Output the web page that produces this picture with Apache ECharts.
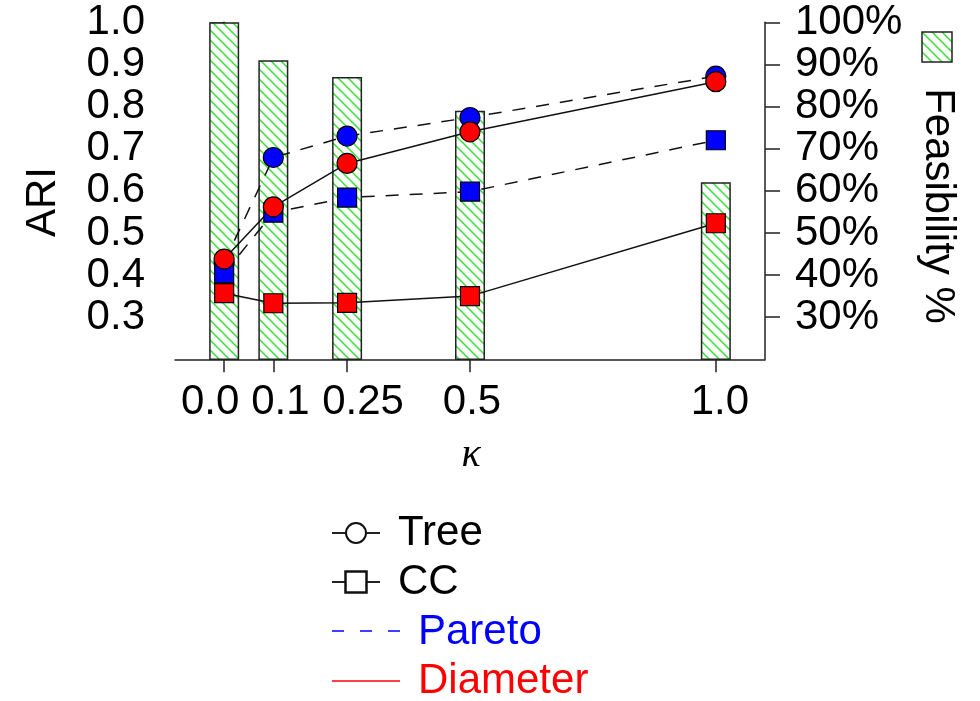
<!DOCTYPE html>
<html>
<head>
    <meta charset="utf-8" />
    <title>ARI vs kappa</title>
    <script src="https://cdn.jsdelivr.net/npm/echarts@6/dist/echarts.min.js"></script>
    <style>
        html, body { margin: 0; padding: 0; background: #fff; }
        #chart { width: 980px; height: 701px; }
    </style>
</head>
<body>
    <div id="chart"></div>
    <script type="text/javascript">
        // kappa values and their tick labels
        const kappa = [0, 0.1, 0.25, 0.5, 1.0];
        const kappaLabels = ['0.0', '0.1', '0.25', '0.5', '1.0'];
        // feasibility % (bars, right axis)
        const feasibility = [100, 91, 87, 79, 62];
        // ARI series
        const treePareto = [0.43, 0.679, 0.730, 0.774, 0.872];
        const ccPareto = [0.404, 0.548, 0.584, 0.598, 0.720];
        const treeDiameter = [0.438, 0.562, 0.665, 0.740, 0.859];
        const ccDiameter = [0.357, 0.333, 0.334, 0.350, 0.523];
        // axis ticks
        const ariTicks = [0.3, 0.4, 0.5, 0.6, 0.7, 0.8, 0.9, 1.0];
        const feasTicks = [30, 40, 50, 60, 70, 80, 90, 100];

        const FONT = "'Liberation Sans', Arial, sans-serif";
        const FS = 42;
        // shift of the kappa labels (px), the labels are not centred on ticks
        const labelShift = [-14, 7, 16, 2, 4];

        //hatch pattern for the bars
        function makeHatch() {
            const c = document.createElement('canvas');
            c.width = 10;
            c.height = 10;
            const ctx = c.getContext('2d');
            ctx.fillStyle = '#fff';
            ctx.fillRect(0, 0, 10, 10);
            ctx.strokeStyle = '#33e033';
            ctx.lineWidth = 1.5;
            for (let k = -1; k <= 1; k++) {
                ctx.beginPath();
                ctx.moveTo(k * 10 - 1, -1);
                ctx.lineTo(k * 10 + 11, 11);
                ctx.stroke();
            }
            return c;
        }
        const hatch = makeHatch();

        const pairs = function (ys) {
            return kappa.map(function (x, i) { return [x, ys[i]]; });
        };

        const rich = {};
        labelShift.forEach(function (d, i) {
            rich['k' + i] = {
                fontSize: FS,
                fontFamily: FONT,
                color: '#000',
                padding: d < 0 ? [0, -2 * d, 0, 0] : [0, 0, 0, 2 * d]
            };
        });

        const lineSeries = function (name, ys, symbol, size, fill, dashed) {
            return {
                name: name,
                type: 'line',
                yAxisIndex: 0,
                data: pairs(ys),
                symbol: symbol,
                symbolSize: size,
                showAllSymbol: true,
                animation: false,
                lineStyle: {
                    color: '#111',
                    width: 1.5,
                    type: dashed ? [13, 11] : 'solid'
                },
                itemStyle: {
                    color: fill,
                    borderColor: '#000',
                    borderWidth: 1.2
                },
                emphasis: { disabled: true }
            };
        };

        const chart = echarts.init(document.getElementById('chart'));
        const option = {
            backgroundColor: '#fff',
            animation: false,
            grid: {
                left: 175,
                right: 215,
                top: 22.3,
                bottom: 341.7,
                containLabel: false,
                outerBoundsMode: 'none'
            },
            xAxis: {
                type: 'value',
                min: -0.1,
                max: 1.1,
                splitLine: { show: false },
                axisLine: { show: true, lineStyle: { color: '#222', width: 1.5 } },
                axisTick: {
                    show: true,
                    customValues: kappa,
                    length: 13,
                    lineStyle: { color: '#222', width: 1.5 }
                },
                axisLabel: {
                    customValues: kappa,
                    margin: 22,
                    fontSize: FS,
                    fontFamily: FONT,
                    color: '#000',
                    formatter: function (v) {
                        const i = kappa.findIndex(function (k) { return Math.abs(k - v) < 1e-9; });
                        return '{k' + i + '|' + kappaLabels[i] + '}';
                    },
                    rich: rich
                }
            },
            yAxis: [{
                type: 'value',
                position: 'left',
                min: 0.2,
                max: 1.0,
                splitLine: { show: false },
                axisLine: { show: true, lineStyle: { color: '#222', width: 1.5 } },
                axisTick: {
                    show: true,
                    customValues: ariTicks,
                    length: 14,
                    lineStyle: { color: '#222', width: 1.5 }
                },
                axisLabel: {
                    customValues: ariTicks,
                    margin: 30,
                    fontSize: FS,
                    fontFamily: FONT,
                    color: '#000',
                    formatter: function (v) { return v.toFixed(1); }
                }
            }, {
                type: 'value',
                position: 'right',
                min: 20,
                max: 100,
                splitLine: { show: false },
                axisLine: { show: true, lineStyle: { color: '#222', width: 1.5 } },
                axisTick: {
                    show: true,
                    customValues: feasTicks,
                    length: 15,
                    lineStyle: { color: '#222', width: 1.5 }
                },
                axisLabel: {
                    customValues: feasTicks,
                    margin: 30,
                    fontSize: FS,
                    fontFamily: FONT,
                    color: '#000',
                    formatter: '{value}%'
                }
            }],
            series: [{
                name: 'Feasibility',
                type: 'bar',
                yAxisIndex: 1,
                data: pairs(feasibility),
                barWidth: 30,
                animation: false,
                itemStyle: {
                    color: { image: hatch, repeat: 'repeat' },
                    borderColor: '#222',
                    borderWidth: 1.5
                },
                emphasis: { disabled: true }
            },
            lineSeries('Tree Pareto', treePareto, 'circle', 20, '#0000ff', true),
            lineSeries('CC Pareto', ccPareto, 'rect', 19, '#0000ff', true),
            lineSeries('Tree Diameter', treeDiameter, 'circle', 20, '#ff0000', false),
            lineSeries('CC Diameter', ccDiameter, 'rect', 19, '#ff0000', false)
            ],
            graphic: [
                // axis titles
                {
                    type: 'text', x: 43, y: 202, rotation: Math.PI / 2,
                    style: { text: 'ARI', font: FS + 'px ' + FONT, fill: '#000', align: 'center', verticalAlign: 'middle' }
                },
                {
                    type: 'text', x: 938, y: 206, rotation: -Math.PI / 2,
                    style: { text: 'Feasibility %', font: FS + 'px ' + FONT, fill: '#000', align: 'center', verticalAlign: 'middle' }
                },
                {
                    type: 'rect', shape: { x: 922, y: 32, width: 30, height: 30 },
                    style: { fill: { image: hatch, repeat: 'repeat' }, stroke: '#222', lineWidth: 1.5 }
                },
                {
                    type: 'text', x: 471, y: 455,
                    style: { text: 'κ', font: 'italic 40px "Liberation Serif", serif', fill: '#000', align: 'center', verticalAlign: 'middle' }
                },
                // legend
                { type: 'line', shape: { x1: 332, y1: 533, x2: 380, y2: 533 }, style: { stroke: '#222', lineWidth: 2 } },
                { type: 'circle', shape: { cx: 356, cy: 533, r: 10 }, style: { fill: '#fff', stroke: '#111', lineWidth: 2 } },
                {
                    type: 'text', x: 398, y: 533,
                    style: { text: 'Tree', font: FS + 'px ' + FONT, fill: '#000', align: 'left', verticalAlign: 'middle' }
                },
                { type: 'line', shape: { x1: 332, y1: 582, x2: 380, y2: 582 }, style: { stroke: '#222', lineWidth: 2 } },
                { type: 'rect', shape: { x: 345.5, y: 571.5, width: 21, height: 21 }, style: { fill: '#fff', stroke: '#111', lineWidth: 2.5 } },
                {
                    type: 'text', x: 398, y: 582,
                    style: { text: 'CC', font: FS + 'px ' + FONT, fill: '#000', align: 'left', verticalAlign: 'middle' }
                },
                { type: 'line', shape: { x1: 332, y1: 631, x2: 402, y2: 631 }, style: { stroke: '#0000ff', lineWidth: 1.5, lineDash: [12, 16] } },
                {
                    type: 'text', x: 418, y: 632,
                    style: { text: 'Pareto', font: FS + 'px ' + FONT, fill: '#0000ff', align: 'left', verticalAlign: 'middle' }
                },
                { type: 'line', shape: { x1: 332, y1: 681, x2: 400, y2: 681 }, style: { stroke: '#ff0000', lineWidth: 1.5 } },
                {
                    type: 'text', x: 418, y: 681,
                    style: { text: 'Diameter', font: FS + 'px ' + FONT, fill: '#ff0000', align: 'left', verticalAlign: 'middle' }
                }
            ]
        };
        chart.setOption(option);
    </script>
</body>
</html>
